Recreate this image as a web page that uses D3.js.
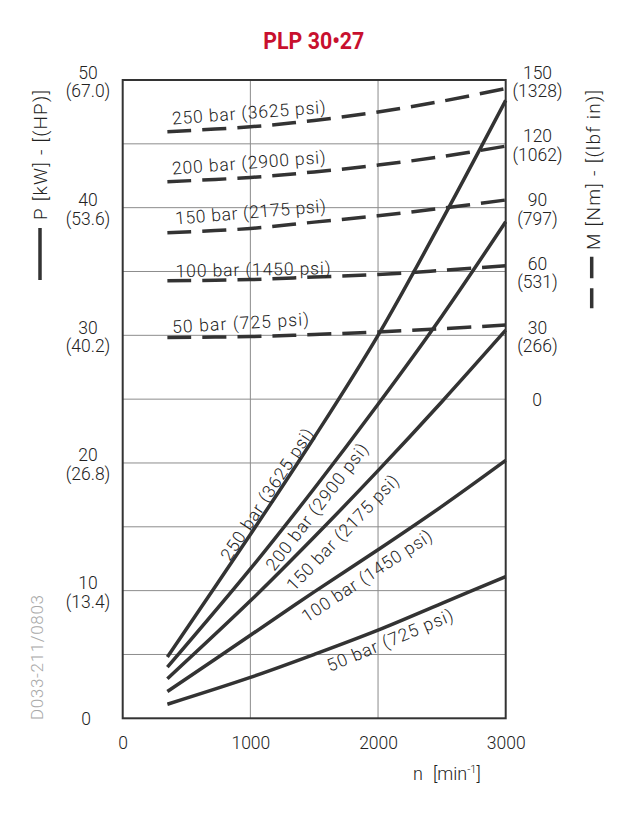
<!DOCTYPE html>
<html><head><meta charset="utf-8">
<script src="https://cdn.jsdelivr.net/npm/d3@7"></script>
<style>
html,body{margin:0;padding:0;background:#fff;}
svg{display:block;}
text{font-family:"Liberation Sans Narrow",Roboto,"DejaVu Sans",sans-serif;font-weight:300;fill:#222;}
</style></head><body>
<svg id="c" width="624" height="833"></svg>
<script>
// ---------- data ----------
const rpm = [350, 1000, 1500, 2000, 2500, 3000];
const pressureLabels = ["250 bar (3625 psi)", "200 bar (2900 psi)", "150 bar (2175 psi)", "100 bar (1450 psi)", "50 bar (725 psi)"];
const power250 = [4.8, 14.4, 22.0, 30.0, 39.0, 48.4];
const power200 = [4.0, 11.7, 18.0, 24.6, 31.5, 38.9];
const power150 = [3.1, 9.2, 14.2, 19.4, 24.8, 30.4];
const power100 = [2.1, 6.5, 9.9, 13.2, 16.6, 20.2];
const power50  = [1.1, 3.2, 5.0, 6.9, 9.0, 11.1];
const torque250 = [125.7, 128.0, 131.0, 135.0, 140.0, 146.0];
const torque200 = [102.2, 104.2, 106.8, 110.0, 114.0, 118.9];
const torque150 = [78.2, 80.2, 83.2, 86.2, 89.7, 93.6];
const torque100 = [55.6, 56.2, 57.4, 58.6, 60.5, 62.7];
const torque50  = [29.0, 29.4, 30.4, 31.6, 33.1, 34.8];
const pTicks = [0, 10, 20, 30, 40, 50];
const hpLabels = ["", "(13.4)", "(26.8)", "(40.2)", "(53.6)", "(67.0)"];
const mTicks = [0, 30, 60, 90, 120, 150];
const lbfLabels = ["", "(266)", "(531)", "(797)", "(1062)", "(1328)"];
const nTicks = [0, 1000, 2000, 3000];
const title = "PLP 30\u202227";
const drawingCode = "D033-211/0803";

// ---------- layout ----------
const L = 122.7, R = 505.7, T = 80, B = 718.3;
const svg = d3.select("#c");
const x = d3.scaleLinear().domain([0, 3000]).range([L, R]);
const yP = d3.scaleLinear().domain([0, 50]).range([B, T]);
const yM = d3.scaleLinear().domain([0, 150]).range([yP(25), T]);
const ink = "#333";

const powers = [power250, power200, power150, power100, power50];
const torques = [torque250, torque200, torque150, torque100, torque50];

// title
svg.append("text").attr("x", 263.3).attr("y", 48.7)
  .attr("textLength", 101).attr("lengthAdjust", "spacingAndGlyphs")
  .style("font-family", "Roboto, 'Liberation Sans', sans-serif")
  .style("font-weight", 700).style("font-size", "24px").style("fill", "#c8102e")
  .text(title);

// grid
const grid = svg.append("g").attr("stroke", "#8c8c8c").attr("stroke-width", 1);
grid.selectAll("line.h").data(d3.range(5, 50, 5)).join("line")
  .attr("x1", L).attr("x2", R).attr("y1", d => yP(d)).attr("y2", d => yP(d));
grid.selectAll("line.v").data([1000, 2000]).join("line")
  .attr("y1", T).attr("y2", B).attr("x1", d => x(d)).attr("x2", d => x(d));

// curves
const lineP = d3.line().x((d, i) => x(rpm[i])).y(d => yP(d)).curve(d3.curveCatmullRom);
const lineM = d3.line().x((d, i) => x(rpm[i])).y(d => yM(d)).curve(d3.curveCatmullRom);
svg.append("g").selectAll("path").data(powers).join("path")
  .attr("d", lineP).attr("fill", "none").attr("stroke", ink).attr("stroke-width", 3.5);
svg.append("g").selectAll("path").data(torques).join("path")
  .attr("d", lineM).attr("fill", "none").attr("stroke", ink).attr("stroke-width", 3.5)
  .attr("stroke-dasharray", "24 11");

// frame
svg.append("rect").attr("x", L).attr("y", T).attr("width", R - L).attr("height", B - T)
  .attr("fill", "none").attr("stroke", ink).attr("stroke-width", 2);

// helper: linear interpolation along a series
function at(series, n) {
  for (let i = 0; i < rpm.length - 1; i++) {
    if (n <= rpm[i + 1]) {
      const t = (n - rpm[i]) / (rpm[i + 1] - rpm[i]);
      return series[i] + t * (series[i + 1] - series[i]);
    }
  }
  return series[series.length - 1];
}

// dashed curve labels (torque)
const dashLabelN = [390, 390, 415, 415, 390];
const dashLabelRot = [-4.3, -4.3, -4.8, -1.2, -3.3];
const dashLabelLift = [7.2, 7.2, 8.2, 3.6, 4.4];
const dashLabelLen = [154, 154, 151, 155, 137];
svg.append("g").selectAll("text").data(pressureLabels).join("text")
  .attr("transform", (d, i) => `translate(${x(dashLabelN[i])},${yM(torques[i][0]) - dashLabelLift[i]}) rotate(${dashLabelRot[i]})`)
  .attr("textLength", (d, i) => dashLabelLen[i]).attr("lengthAdjust", "spacing")
  .style("font-size", "17.5px").text(d => d);

// solid curve labels (power): centre point in data coords, rotated with local slope
const solidLabelN = [1128, 1519, 1721, 1911, 2093];
const solidLabelP = [17.55, 16.57, 14.55, 11.16, 6.13];
const solidLabelLen = [154, 155, 153, 152, 135];
svg.append("g").selectAll("text").data(pressureLabels).join("text")
  .attr("transform", (d, i) => {
    const n = solidLabelN[i];
    const dx = x(n + 100) - x(n - 100);
    const dy = yP(at(powers[i], n + 100)) - yP(at(powers[i], n - 100));
    const ang = Math.atan2(dy, dx) * 180 / Math.PI;
    return `translate(${x(n)},${yP(solidLabelP[i])}) rotate(${ang})`;
  })
  .attr("text-anchor", "middle").attr("dy", "0.36em")
  .attr("textLength", (d, i) => solidLabelLen[i]).attr("lengthAdjust", "spacing")
  .style("font-size", "17.5px").text(d => d);

// left axis labels
const left = svg.append("g").style("font-size", "17.5px").attr("text-anchor", "middle");
pTicks.forEach((v, i) => {
  if (v === 0) {
    left.append("text").attr("x", 86).attr("y", yP(v) + 6.5).text(v);
  } else {
    left.append("text").attr("x", 88).attr("y", yP(v) - 1.5).text(v);
    left.append("text").attr("x", 88).attr("y", yP(v) + 17).text(hpLabels[i]);
  }
});
// right axis labels
const right = svg.append("g").style("font-size", "17.5px").attr("text-anchor", "middle");
mTicks.forEach((v, i) => {
  if (v === 0) {
    right.append("text").attr("x", 537).attr("y", yM(v) + 6.5).text(v);
  } else {
    right.append("text").attr("x", 537.5).attr("y", yM(v) - 1.5).text(v);
    right.append("text").attr("x", 537.5).attr("y", yM(v) + 17).text(lbfLabels[i]);
  }
});

// bottom axis
const xa = svg.append("g").attr("transform", `translate(0,${B})`)
  .call(d3.axisBottom(x).tickValues(nTicks).tickSize(0).tickFormat(d3.format("d")));
xa.select(".domain").remove();
xa.attr("font-family", null).attr("font-size", null);
xa.selectAll("text").attr("y", 31).attr("dy", 0)
  .style("font-size", "17.5px").attr("fill", "#222");

// x title
const xt = svg.append("text").attr("x", 413).attr("y", 780).style("font-size", "18px");
xt.append("tspan").text("n");
xt.append("tspan").attr("x", 433).text("[min");
xt.append("tspan").attr("dy", -7).style("font-size", "11px").text("-1");
xt.append("tspan").attr("dy", 7).text("]");

// y titles with legend keys
svg.append("text").attr("transform", "translate(46.5,220) rotate(-90)")
  .attr("textLength", 130).attr("lengthAdjust", "spacing")
  .style("font-size", "19px").text("P [kW] - [(HP)]");
svg.append("line").attr("x1", 40).attr("x2", 40).attr("y1", 228).attr("y2", 280)
  .attr("stroke", ink).attr("stroke-width", 3.5);
svg.append("text").attr("transform", "translate(600,250) rotate(-90)")
  .attr("textLength", 160).attr("lengthAdjust", "spacing")
  .style("font-size", "19px").text("M [Nm] - [(lbf in)]");
svg.append("line").attr("x1", 591.7).attr("x2", 591.7).attr("y1", 256.7).attr("y2", 308.3)
  .attr("stroke", ink).attr("stroke-width", 3.5).attr("stroke-dasharray", "21.6 10 20");

// drawing code
svg.append("text").attr("transform", "translate(43,720) rotate(-90)")
  .attr("textLength", 125).attr("lengthAdjust", "spacing")
  .style("font-size", "17px").style("fill", "#a8a8a8").text(drawingCode);
</script>
</body></html>
